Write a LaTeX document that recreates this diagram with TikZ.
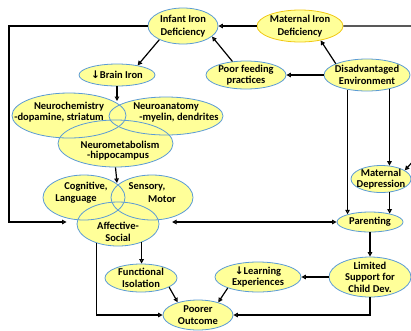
\documentclass[tikz,border=0pt]{standalone}
\usepackage{fontspec}
\setmainfont{Carlito}
\newfontfamily\arrowfont{DejaVu Sans}
\usetikzlibrary{shapes.geometric,arrows.meta}
\definecolor{ey}{RGB}{255,255,153}
\definecolor{eb}{RGB}{91,155,213}
\definecolor{eg}{RGB}{240,200,20}
\begin{document}
\begin{tikzpicture}[x=1pt,y=-1pt,
 ell/.style={ellipse,draw=eb,fill=ey,line width=0.8pt,inner sep=0pt},
 txt/.style={font=\fontsize{10.5}{11.5}\selectfont\bfseries,align=center,inner sep=0pt},
 tip/.style={},
 arr/.style={line width=1.2pt,-{Triangle[open,length=4.5pt,width=4.5pt]}},
 darr/.style={line width=1.2pt,{Triangle[open,length=4.5pt,width=4.5pt]}-{Triangle[open,length=4.5pt,width=4.5pt]}}]
\useasboundingbox (0,0) rectangle (411,330);

% single ellipses
\node[ell,minimum width=70pt,minimum height=36pt,label={[txt]center:{Infant Iron\\[2pt]Deficiency}}] (inf) at (183,26) {};
\node[ell,draw=eg,minimum width=86pt,minimum height=32pt,label={[txt]center:{Maternal Iron\\[2pt]Deficiency}}] (mid) at (300,26) {};
\node[ell,minimum width=76pt,minimum height=22pt,label={[txt]center:{{\arrowfont\bfseries ↓}Brain Iron}}] (brain) at (117,75) {};
\node[ell,minimum width=80pt,minimum height=28pt,label={[txt]center:{Poor feeding\\practices}}] (pfp) at (246,75) {};
\node[ell,minimum width=86pt,minimum height=32pt,label={[txt]center:{Disadvantaged\\Environment}}] (dis) at (367,75) {};
\node[ell,minimum width=60pt,minimum height=27pt,label={[txt]center:{Maternal\\Depression}}] (md) at (381,179) {};
\node[ell,minimum width=66pt,minimum height=20pt,label={[txt]center:{Parenting}}] (par) at (370,222) {};
\node[ell,minimum width=82pt,minimum height=40pt,label={[txt]center:{Limited\\Support for\\Child Dev.}}] (lim) at (370,277) {};
\node[ell,minimum width=86pt,minimum height=30pt,label={[txt]center:{{\arrowfont\bfseries ↓}Learning\\Experiences}}] (lrn) at (258,277) {};
\node[ell,minimum width=72pt,minimum height=28pt,label={[txt]center:{Functional\\Isolation}}] (fun) at (141,278) {};
\node[ell,minimum width=70pt,minimum height=30pt,label={[txt]center:{Poorer\\Outcome}}] (poor) at (198,315) {};

% brain venn
\fill[ey] (69,115.5) ellipse [x radius=57pt,y radius=22.5pt];
\fill[ey] (166,116) ellipse [x radius=57pt,y radius=19pt];
\fill[ey] (115.5,143.5) ellipse [x radius=57.5pt,y radius=23.5pt];
\node[ell,fill=none,minimum width=114pt,minimum height=45pt] (nc) at (69,115.5) {};
\node[ell,fill=none,minimum width=114pt,minimum height=38pt] (na) at (166,116) {};
\node[ell,fill=none,minimum width=115pt,minimum height=47pt] (nm) at (115.5,143.5) {};
\node[txt] (nc1) at (69,107) {Neurochemistry};
\node[txt] (nc2) at (59,117.5) {-dopamine, striatum};
\node[txt] (na1) at (166,107) {Neuroanatomy};
\node[txt] (na2) at (179,117.5) {-myelin, dendrites};
\node[txt] (nm1) at (120,145) {Neurometabolism};
\node[txt] (nm2) at (118,156) {-hippocampus};

% development venn
\fill[ey] (84,197.5) ellipse [x radius=41pt,y radius=22.5pt];
\fill[ey] (152,197.5) ellipse [x radius=41pt,y radius=22.5pt];
\fill[ey] (118,224) ellipse [x radius=41pt,y radius=22pt];
\node[ell,fill=none,minimum width=82pt,minimum height=45pt] (cog) at (84,197.5) {};
\node[ell,fill=none,minimum width=82pt,minimum height=45pt] (sen) at (152,197.5) {};
\node[ell,fill=none,minimum width=82pt,minimum height=44pt] (aff) at (118,224) {};
\node[txt] (cog1) at (86,187) {Cognitive,};
\node[txt] (cog2) at (76,199) {Language};
\node[txt] (sen1) at (147,187) {Sensory,};
\node[txt] (sen2) at (162,199) {Motor};
\node[txt] (aff1) at (118,226) {Affective-};
\node[txt] (aff2) at (118,238) {Social};

\coordinate (v1) at (117,101);
\coordinate (v2) at (117,183);

% connectors
\draw[arr] (mid.west) -- (inf.east);
\draw[arr] (inf.210) -- (brain.25);
\draw[arr] (pfp.135) -- (inf.-20);
\draw[arr] (dis.160) -- (mid.-35);
\draw[arr] (dis.west) -- (pfp.east);
\draw[arr] (mid.east) -- (416,26) -- (416,158) -- (md.20);
\draw[arr] (dis.-32) -- (dis.-32 |- md.57);
\draw[arr] (dis.217) -- (dis.217 |- par.161);
\draw[arr] (md.-57) -- (md.-57 |- par.23);
\draw[arr] (par.south) -- (lim.north);
\draw[darr] (par.west) -- (par.west -| sen.-45);
\draw[arr] (inf.west) -- (9,26) -- (9,222) -- (cog.-130 |- 0,222);
\draw[arr] (brain.south) -- (v1);
\draw[arr] (nm.south) -- (v2);
\draw[arr] (aff.-38) -- (aff.-38 |- fun.north);
\draw[arr] (fun.-18) -- (poor.148);
\draw[arr] (aff.222) |- (poor.west);
\draw[arr] (lrn.200) -- (poor.32);
\draw[arr] (lim.west) -- (lrn.east);
\draw[arr] (lim.south) |- (poor.east);
\end{tikzpicture}
\end{document}
